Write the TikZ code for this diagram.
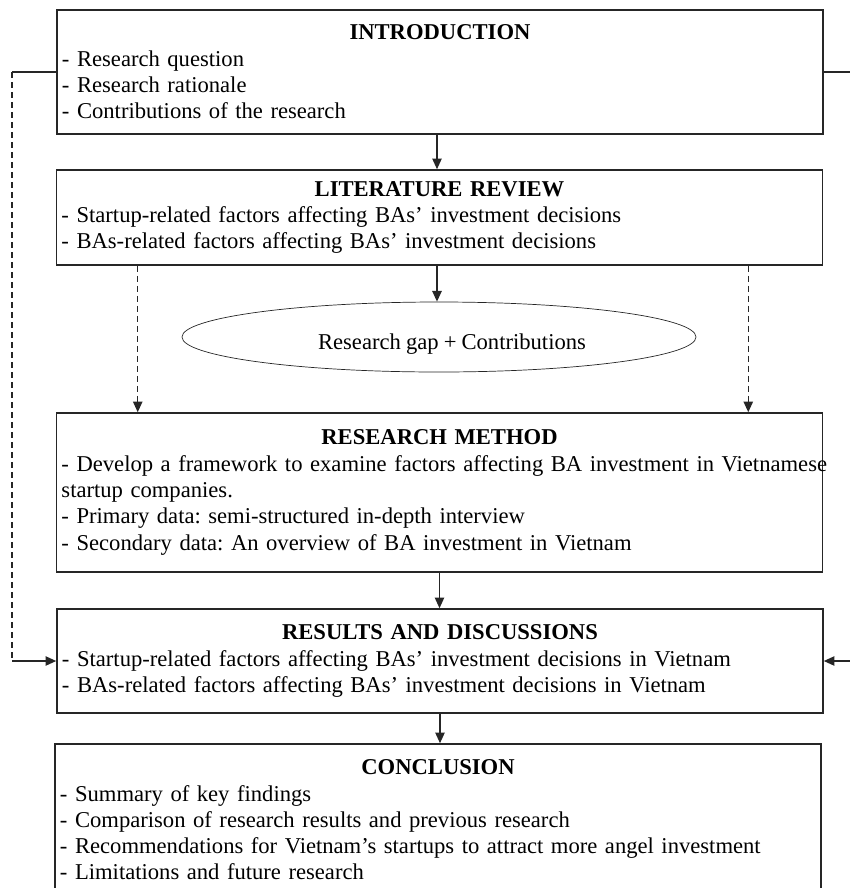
\documentclass[tikz,border=0pt]{standalone}
\usepackage{fontspec}
\setmainfont{Liberation Serif}[WordSpace=0.9]
\usetikzlibrary{shapes.geometric,arrows.meta,calc}
\definecolor{linec}{HTML}{262626}
\begin{document}
\begin{tikzpicture}[x=0.03cm,y=-0.03cm,
  font=\fontsize{19.3}{22.45}\selectfont\frenchspacing,
  box/.style={draw=linec,line width=1.3pt,rectangle,minimum width=22.98cm,
    text width=22.68cm,inner xsep=0.15cm,inner ysep=0pt,align=left,anchor=center},
  tip/.style={-{Triangle[length=0.32cm,width=0.28cm]}},
  arr/.style={draw=linec,line width=1.3pt,tip},
  dsh/.style={draw=linec,line width=1.3pt,dash pattern=on 0.18cm off 0.12cm},
  ln/.style={draw=linec,line width=1.3pt}]
\useasboundingbox (0,0) rectangle (850,888);
\node[box,minimum height=3.72cm] (intro) at (440,72)
 {\makebox[\linewidth]{\textbf{INTRODUCTION}}\\
  - Research question\\
  - Research rationale\\
  - Contributions of the research};
\node[box,minimum height=2.85cm] (lit) at (439.5,217.5)
 {\makebox[\linewidth]{\textbf{LITERATURE REVIEW}}\\
  - Startup-related factors affecting BAs’ investment decisions\\
  - BAs-related factors affecting BAs’ investment decisions};
\node[draw=linec,line width=0.6pt,ellipse,minimum width=15.42cm,minimum height=2.1cm,inner sep=0pt] (gap) at (439,337)
 {\hspace*{0.78cm}\raisebox{-0.38cm}[0pt][0pt]{Research gap + Contributions}};
\node[box,minimum height=4.77cm] (method) at (439.5,492.5)
 {\makebox[\linewidth]{\textbf{RESEARCH METHOD}}\\
  \mbox{- Develop a framework to examine factors affecting BA investment in Vietnamese}\\
  startup companies.\\
  - Primary data: semi-structured in-depth interview\\
  - Secondary data: An overview of BA investment in Vietnam};
\node[box,minimum height=3.12cm] (results) at (440,661)
 {\makebox[\linewidth]{\textbf{RESULTS AND DISCUSSIONS}}\\
  - Startup-related factors affecting BAs’ investment decisions in Vietnam\\
  - BAs-related factors affecting BAs’ investment decisions in Vietnam};
\node[box,minimum height=4.56cm] (concl) at (438,820)
 {\makebox[\linewidth]{\textbf{CONCLUSION}}\\
  - Summary of key findings\\
  - Comparison of research results and previous research\\
  - Recommendations for Vietnam’s startups to attract more angel investment\\
  - Limitations and future research};
% main arrows
\draw[arr] ([xshift=-0.09cm]intro.south) -- ([xshift=-0.09cm]intro.south |- lit.north);
\draw[arr] ([xshift=-0.075cm]lit.south) -- ([xshift=-0.075cm]lit.south |- gap.north);
\draw[arr] (method.south) -- (method.south |- results.north);
\draw[arr] (results.south) -- (results.south |- concl.north);
% dashed arrows
\draw[dsh,tip] ([xshift=2.46cm]lit.south west) -- ([xshift=2.46cm]method.north west);
\draw[dsh,tip] ([xshift=-2.25cm]lit.south east) -- ([xshift=-2.25cm]method.north east);
% side connectors
\coordinate (L1) at (12,72);
\coordinate (L2) at (12,661);
\coordinate (R1) at (858,72);
\coordinate (R2) at (858,661);
\draw[ln] (intro.west) -- (L1);
\draw[dsh] (L1) -- (L2);
\draw[arr] (L2) -- (results.west);
\draw[ln] (intro.east) -- (R1);
\draw[dsh] (R1) -- (R2);
\draw[arr] (R2) -- (results.east);
\end{tikzpicture}
\end{document}
